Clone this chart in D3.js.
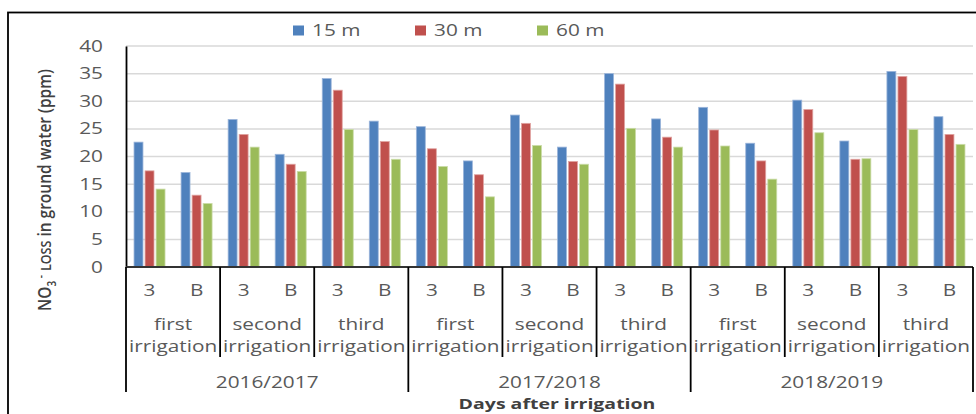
<!DOCTYPE html>
<html><head><meta charset="utf-8">
<script src="https://cdn.jsdelivr.net/npm/d3@7"></script>
<style>
html,body{margin:0;padding:0;background:#fff;}
svg{display:block;font-family:"Open Sans",sans-serif;}
</style></head>
<body><svg id="c" width="976" height="414"></svg>
<script>
const years = ["2016/2017","2017/2018","2018/2019"];
const irrigations = ["first irrigation","second irrigation","third irrigation"];
const days = ["3","B"];
const series = ["15 m","30 m","60 m"];
const colors = ["#4f81bd","#c0504d","#9bbb59"];
const strokeColors = ["#9bb5da","#e0a3a1","#cbdca9"];
// values per category (year > irrigation > day), order as in chart
const v15 = [22.6,17.1,26.7,20.4,34.1,26.4, 25.4,19.2,27.5,21.7,35.0,26.8, 28.9,22.4,30.2,22.8,35.4,27.2];
const v30 = [17.4,13.0,24.0,18.6,32.0,22.7, 21.4,16.7,26.0,19.1,33.1,23.5, 24.8,19.2,28.5,19.5,34.5,24.0];
const v60 = [14.1,11.5,21.7,17.3,24.9,19.5, 18.2,12.7,22.0,18.6,25.1,21.7, 21.9,15.9,24.3,19.6,24.9,22.2];
const yTicks = [0,5,10,15,20,25,30,35,40];

const values = [v15,v30,v60];
const cats = [];
years.forEach((y,yi)=>irrigations.forEach((ir,ii)=>days.forEach((d,di)=>cats.push({y,yi,ir,ii,d,di}))));
const catIds = cats.map((c,i)=>i);

const svg = d3.select("#c");
const SX = 1.3;
const L = 126, R = 973, T = 46, B = 267;

// frame
svg.append("rect").attr("x",8).attr("y",12.5).attr("width",990).attr("height",430)
  .attr("fill","none").attr("stroke","#000").attr("stroke-width",1.8);

const x = d3.scaleBand().domain(catIds).range([L,R]).padding(0);
const y = d3.scaleLinear().domain([0,40]).range([B,T]);
const inner = d3.scaleBand().domain(series.map((s,i)=>i)).range([0,31]).paddingInner(0.19);

// gridlines
svg.append("g").selectAll("line").data(yTicks.filter(t=>t>0)).join("line")
  .attr("x1",L).attr("x2",R).attr("y1",d=>y(d)).attr("y2",d=>y(d))
  .attr("stroke","#d9d9d9").attr("stroke-width",1.5);

// bars
const off = (x.bandwidth()-31)/2;
series.forEach((s,si)=>{
  svg.append("g").selectAll("rect").data(catIds).join("rect")
    .attr("x",d=>x(d)+off+inner(si))
    .attr("y",d=>y(values[si][d]))
    .attr("width",inner.bandwidth())
    .attr("height",d=>y(0)-y(values[si][d]))
    .attr("fill",colors[si])
    .attr("stroke",strokeColors[si]).attr("stroke-width",0.8);
});

// y axis
const ya = svg.append("g").attr("transform",`translate(${L},0)`)
  .call(d3.axisLeft(y).tickValues(yTicks).tickSize(0).tickPadding(0));
ya.select(".domain").attr("stroke","#000").attr("stroke-width",1.8);
ya.selectAll("text").attr("x",0).attr("dy","0.35em")
  .attr("transform",d=>`translate(-23,${y(d)}) scale(${SX},1)`)
  .attr("font-size",16).attr("fill","#595959").attr("font-family","Open Sans");
ya.selectAll(".tick").attr("transform",null);

// x axis line
svg.append("line").attr("x1",L).attr("x2",R).attr("y1",B).attr("y2",B)
  .attr("stroke","#333").attr("stroke-width",1.8);

// separators
const irrBounds = d3.range(0,19,2);
svg.append("g").selectAll("line").data(irrBounds).join("line")
  .attr("x1",d=>d<18?x(d):R).attr("x2",d=>d<18?x(d):R)
  .attr("y1",B).attr("y2",d=>d%6===0?392:357)
  .attr("stroke","#000").attr("stroke-width",1.8);

function stext(g,tx,ty,txt,size,opts={}){
  return g.append("text").attr("transform",`translate(${tx},${ty}) scale(${SX},1)`)
    .attr("text-anchor",opts.anchor||"middle").attr("font-size",size)
    .attr("font-weight",opts.weight||400).attr("fill",opts.fill||"#595959").text(txt);
}
const lab = svg.append("g");
cats.forEach((c,i)=>{
  stext(lab, x(i)+x.bandwidth()/2, 296, c.d, 16);
});
for(let k=0;k<9;k++){
  const cx = x(k*2)+x.bandwidth();
  const parts = irrigations[k%3].split(" ");
  stext(lab, cx, 330, parts[0], 16);
  stext(lab, cx, 352, parts[1], 16);
}
years.forEach((yr,i)=>{
  const x0 = x(i*6), x1 = i<2?x(i*6+6):R;
  stext(lab,(x0+x1)/2,387.5,yr,16);
});
stext(lab,557,409,"Days after irrigation",15,{weight:700,fill:"#404040"});

// y label
const yl = svg.append("text").attr("transform",`translate(51,190) rotate(-90) scale(1,1.2)`)
  .attr("text-anchor","middle").attr("font-size",15.5).attr("font-weight",600).attr("fill","#404040");
yl.append("tspan").text("NO");
yl.append("tspan").attr("font-size",10).attr("dy",4).text("3");
yl.append("tspan").attr("font-size",10).attr("dy",-9).text(" -");
yl.append("tspan").attr("dy",5).text(" ");
yl.append("tspan").attr("font-size",12.5).text("LOSS");
yl.append("tspan").text(" in ground water (ppm)");

// legend
const legX = [293,415,537];
series.forEach((s,i)=>{
  svg.append("rect").attr("x",legX[i]).attr("y",25.5).attr("width",11).attr("height",10).attr("fill",colors[i]);
  stext(svg, legX[i]+19, 35.7, s, 16, {anchor:"start"});
});
</script></body></html>
